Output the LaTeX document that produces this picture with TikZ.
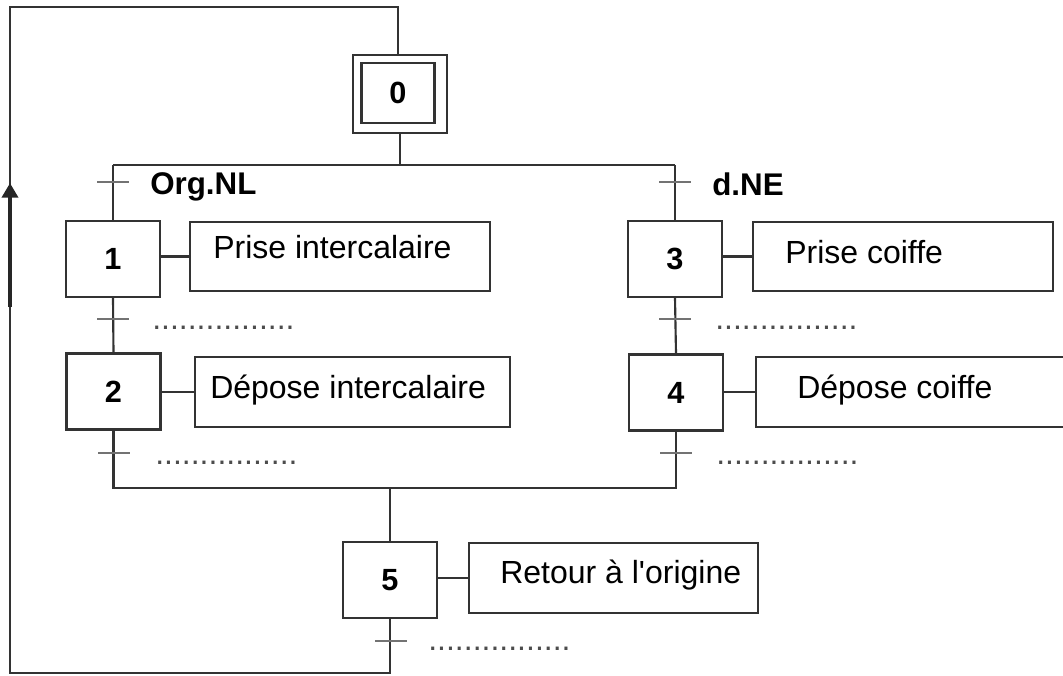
\documentclass[tikz,border=0pt]{standalone}
\usepackage{fontspec}
\setmainfont{Liberation Sans}
\usetikzlibrary{arrows.meta,calc}
\begin{document}
\begin{tikzpicture}[x=0.75pt,y=-0.75pt,
  ln/.style={draw=black!80,line width=1.6pt},
  tick/.style={draw=black!55,line width=1.8pt},
  stepbox/.style={ln,rectangle,inner sep=0pt,minimum width=70.5pt,minimum height=57pt,font=\fontsize{23}{26}\selectfont\bfseries},
  actbox/.style={ln,rectangle,inner sep=0pt},
  acttext/.style={anchor=base west,inner sep=0pt,font=\fontsize{24}{28}\selectfont},
  cond/.style={anchor=base west,inner sep=0pt,font=\fontsize{23.5}{28}\selectfont\bfseries},
  dots/.style={anchor=base west,inner sep=0pt,font=\fontsize{24}{28}\selectfont,text=black!70}
]
\useasboundingbox (0,0) rectangle (1063,675);
\clip (0,0) rectangle (1063,675);

% steps
\node[ln,rectangle,inner sep=0pt,minimum width=70.5pt,minimum height=58.5pt] (s0) at (400,94) {};
\node[ln,rectangle,inner sep=0pt,minimum width=54.75pt,minimum height=45pt,font=\fontsize{23}{26}\selectfont\bfseries] (s0i) at (398,93) {0};
\node[stepbox] (s1) at (113,259) {1};
\node[stepbox] (s2) at (113.5,391.5) {2};
\node[stepbox] (s3) at (675,259) {3};
\node[stepbox] (s4) at (676,392.5) {4};
\node[stepbox] (s5) at (390,580) {5};

% actions
\node[actbox,minimum width=225pt,minimum height=51.75pt] (a1) at (340,256.5) {};
\node[acttext] (a1t) at (213,258) {Prise intercalaire};
\node[actbox,minimum width=236.25pt,minimum height=52.5pt] (a2) at (352.5,392) {};
\node[acttext] (a2t) at (210,398) {Dépose intercalaire};
\node[actbox,minimum width=225pt,minimum height=51.75pt] (a3) at (903,256.5) {};
\node[acttext] (a3t) at (785,263) {Prise coiffe};
\node[actbox,minimum width=235.5pt,minimum height=52.5pt] (a4) at (913,392) {};
\node[acttext] (a4t) at (797,398) {Dépose coiffe};
\node[actbox,minimum width=216.75pt,minimum height=52.5pt] (a5) at (613.5,578) {};
\node[acttext] (a5t) at (500,583) {Retour à l\textquotesingle origine};

% links step -> action
\draw[ln] (a1.west -| s1.east) -- (a1.west);
\draw[ln] (a2.west -| s2.east) -- (a2.west);
\draw[ln] (a3.west -| s3.east) -- (a3.west);
\draw[ln] (a4.west -| s4.east) -- (a4.west);
\draw[ln] (a5.west -| s5.east) -- (a5.west);

% divergence
\coordinate (dl) at (113,165);
\coordinate (dr) at (675,165);
\draw[ln] (s0.south) -- (s0.south |- dl);
\draw[ln] (dl) -- (dr);
\draw[ln] (dl) -- (s1.north);
\draw[ln] (dr) -- (s3.north);

% sequences
\draw[ln] (s1.south) -- (s2.north);
\draw[ln] (s3.south) -- (s4.north);

% convergence
\coordinate (cl) at (114,488);
\coordinate (cr) at (676,488);
\coordinate (cm) at (390,488);
\draw[ln] (s2.south) -- (s2.south |- cl) -- (cr) -- (s4.south);
\draw[ln] (cm) -- (s5.north);

% loop back
\coordinate (bl) at (10,673);
\coordinate (tl) at (10,7);
\draw[ln] (s5.south) -- (s5.south |- bl) -- (bl) -- (tl) -- (tl -| s0i.north) -- (s0.north -| s0i.north);
\coordinate (ab) at (10,307);
\coordinate (at) at (10,183);
\draw[draw=black!85,line width=3pt,-{Triangle[length=11pt,width=12pt]}] (ab) -- (at);

% transitions
\coordinate (t01) at (113,182);
\coordinate (t03) at (675,182);
\coordinate (t12) at (113,319);
\coordinate (t2) at (114,453);
\coordinate (t34) at (675,319);
\coordinate (t4) at (676,453);
\coordinate (t5) at (391,641);
\foreach \t in {t01,t03,t12,t2,t34,t4,t5}
  \draw[tick] ($(\t)+(-16,0)$) -- ($(\t)+(16,0)$);

% receptivities
\node[cond] (r01) at (150,194) {Org.NL};
\node[cond] (r03) at (712,195) {d.NE};
\node[dots] (r12) at (152,329) {................};
\node[dots] (r2) at (155,464) {................};
\node[dots] (r34) at (715,329) {................};
\node[dots] (r4) at (716,464) {................};
\node[dots] (r5) at (428,650) {................};
\end{tikzpicture}
\end{document}
